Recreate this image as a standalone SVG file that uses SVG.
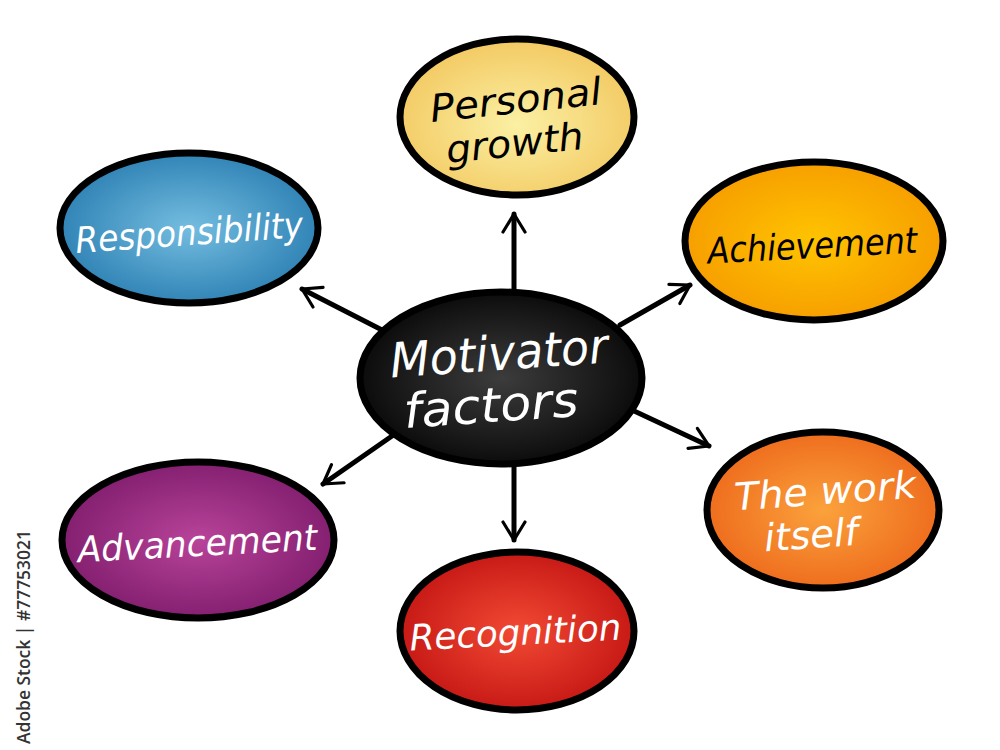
<svg xmlns="http://www.w3.org/2000/svg" width="1000" height="750" viewBox="0 0 1000 750">
<defs>
<radialGradient id="gBlack" cx="0.5" cy="0.5" r="0.6"><stop offset="0" stop-color="#3c3c3c"/><stop offset="0.7" stop-color="#141414"/><stop offset="1" stop-color="#000"/></radialGradient>
<radialGradient id="gYellow" cx="0.5" cy="0.55" r="0.6"><stop offset="0" stop-color="#fbf0a4"/><stop offset="1" stop-color="#f2c65c"/></radialGradient>
<radialGradient id="gBlue" cx="0.5" cy="0.5" r="0.6"><stop offset="0" stop-color="#74bde0"/><stop offset="1" stop-color="#2479ae"/></radialGradient>
<radialGradient id="gOrange" cx="0.5" cy="0.5" r="0.6"><stop offset="0" stop-color="#ffc400"/><stop offset="1" stop-color="#f59800"/></radialGradient>
<radialGradient id="gRedOrange" cx="0.5" cy="0.5" r="0.6"><stop offset="0" stop-color="#fba23c"/><stop offset="1" stop-color="#ec6318"/></radialGradient>
<radialGradient id="gRed" cx="0.5" cy="0.5" r="0.6"><stop offset="0" stop-color="#f24a34"/><stop offset="1" stop-color="#bf1010"/></radialGradient>
<radialGradient id="gPurple" cx="0.5" cy="0.5" r="0.6"><stop offset="0" stop-color="#b8449a"/><stop offset="1" stop-color="#7a1868"/></radialGradient>
<marker id="arr" viewBox="0 0 26 26" refX="23" refY="13" markerWidth="26" markerHeight="26" markerUnits="userSpaceOnUse" orient="auto">
<path d="M5,2 L23,13 L5,24" fill="none" stroke="#000" stroke-width="3.2" stroke-linecap="round" stroke-linejoin="round"/>
</marker>
<style>
.shape{stroke:#000;stroke-width:7}
.lbl{font-family:"DejaVu Sans","Noto Sans",sans-serif;font-style:italic;text-anchor:middle}
.w{fill:#fff}
.k{fill:#000}
.conn{stroke:#000;stroke-width:5;fill:none;stroke-linecap:round}
</style>
</defs>
<rect width="1000" height="750" fill="#fff"/>

<g id="connectors">
<line class="conn" x1="514" y1="292" x2="514" y2="214" marker-end="url(#arr)"/>
<line class="conn" x1="514" y1="464" x2="514" y2="540" marker-end="url(#arr)"/>
<line class="conn" x1="382" y1="330" x2="302" y2="289" marker-end="url(#arr)"/>
<line class="conn" x1="620" y1="325" x2="690" y2="285" marker-end="url(#arr)"/>
<line class="conn" x1="632" y1="410" x2="709" y2="446" marker-end="url(#arr)"/>
<line class="conn" x1="392" y1="436" x2="323" y2="484" marker-end="url(#arr)"/>
</g>

<g id="center">
<ellipse class="shape" cx="501" cy="378" rx="141" ry="86" fill="url(#gBlack)"/>
<text class="lbl w" x="500" y="370" font-size="48" transform="rotate(-4 500 370)" textLength="218" lengthAdjust="spacingAndGlyphs">Motivator</text>
<text class="lbl w" x="492" y="422" font-size="48" transform="rotate(-4 492 422)" textLength="175" lengthAdjust="spacingAndGlyphs">factors</text>
</g>

<g id="personal-growth">
<ellipse class="shape" cx="517" cy="117" rx="117" ry="78" fill="url(#gYellow)"/>
<text class="lbl k" x="517" y="113" font-size="38" transform="rotate(-6 517 113)" textLength="172" lengthAdjust="spacingAndGlyphs">Personal</text>
<text class="lbl k" x="516" y="156" font-size="38" transform="rotate(-6 516 156)" textLength="138" lengthAdjust="spacingAndGlyphs">growth</text>
</g>

<g id="responsibility">
<ellipse class="shape" cx="189" cy="228" rx="129" ry="75" fill="url(#gBlue)"/>
<text class="lbl w" x="190" y="245" font-size="36" transform="rotate(-4 190 245)" textLength="228" lengthAdjust="spacingAndGlyphs">Responsibility</text>
</g>

<g id="achievement">
<ellipse class="shape" cx="814" cy="241" rx="129" ry="79" fill="url(#gOrange)"/>
<text class="lbl k" x="813" y="258" font-size="36" transform="rotate(-3 813 258)" textLength="210" lengthAdjust="spacingAndGlyphs">Achievement</text>
</g>

<g id="the-work-itself">
<ellipse class="shape" cx="823" cy="510" rx="116" ry="78" fill="url(#gRedOrange)"/>
<text class="lbl w" x="826" y="504" font-size="38" transform="rotate(-4 826 504)" textLength="182" lengthAdjust="spacingAndGlyphs">The work</text>
<text class="lbl w" x="812" y="548" font-size="38" transform="rotate(-4 812 548)" textLength="94" lengthAdjust="spacingAndGlyphs">itself</text>
</g>

<g id="recognition">
<ellipse class="shape" cx="517" cy="631" rx="117" ry="79" fill="url(#gRed)"/>
<text class="lbl w" x="516" y="645" font-size="36" transform="rotate(-3 516 645)" textLength="212" lengthAdjust="spacingAndGlyphs">Recognition</text>
</g>

<g id="advancement">
<ellipse class="shape" cx="198" cy="540" rx="136" ry="78" fill="url(#gPurple)"/>
<text class="lbl w" x="198" y="556" font-size="36" transform="rotate(-3 198 556)" textLength="240" lengthAdjust="spacingAndGlyphs">Advancement</text>
</g>

<text x="30" y="744" font-family="'Open Sans','Noto Sans',sans-serif" font-size="18" font-weight="600" fill="#333" transform="rotate(-90 30 744)" textLength="214" lengthAdjust="spacingAndGlyphs">Adobe Stock | #77753021</text>
</svg>
